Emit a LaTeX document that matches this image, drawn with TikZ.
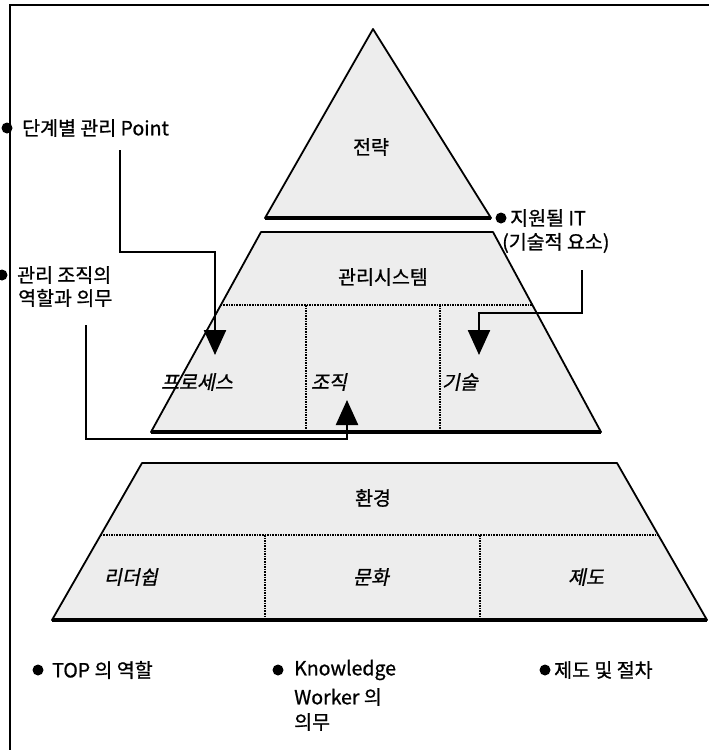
\documentclass[tikz,border=0pt]{standalone}
\usepackage{fontspec}
\setmainfont{Noto Sans CJK KR}[FakeBold=0.9, AutoFakeBold=0.9]
\newfontfamily\kr{Noto Sans CJK KR}[FakeBold=0.9]
\newfontfamily\krit{Noto Sans CJK KR}[FakeSlant=0.2, FakeBold=0.9]
\usetikzlibrary{arrows.meta,calc}
\begin{document}
\begin{tikzpicture}[x=1pt,y=-1pt,
  lbl/.style={font=\fontsize{19.5}{22}\selectfont\kr, inner sep=0pt},
  itl/.style={font=\fontsize{19.5}{22}\selectfont\krit, inner sep=0pt},
  tier/.style={draw, line width=1.8pt, fill=black!7, line join=round},
  baseline edge/.style={line width=3.8pt, line cap=butt},
  divider/.style={densely dotted, line width=1.6pt},
  conn/.style={line width=2.4pt, -{Triangle[length=25pt,width=22pt]}},
  dot/.style={circle, fill, inner sep=0pt, minimum size=11pt},
]
\useasboundingbox (0,0) rectangle (709,750);
% frame
\draw[line width=1.6pt] (10,750) -- (10,5) -- (709,5);

% top triangle
\coordinate (Tap) at (373,29);
\coordinate (Tbl) at (265,218);
\coordinate (Tbr) at (491,218);
\filldraw[tier] (Tap) -- (Tbr) -- (Tbl) -- cycle;
\draw[baseline edge] (Tbl) -- (Tbr);

% middle trapezoid
\coordinate (Mtl) at (261,232);
\coordinate (Mtr) at (493,232);
\coordinate (Mbr) at (601,432);
\coordinate (Mbl) at (151,432);
\filldraw[tier] (Mtl) -- (Mtr) -- (Mbr) -- (Mbl) -- cycle;
\draw[baseline edge] (Mbl) -- (Mbr);
\draw[divider] ($(Mtl)!0.365!(Mbl)$) -- ($(Mtr)!0.365!(Mbr)$);
\draw[divider] (306,305) -- (306,431);
\draw[divider] (440,305) -- (440,431);

% bottom trapezoid
\coordinate (Btl) at (142,463);
\coordinate (Btr) at (617,463);
\coordinate (Bbr) at (707,620);
\coordinate (Bbl) at (52,620);
\filldraw[tier] (Btl) -- (Btr) -- (Bbr) -- (Bbl) -- cycle;
\draw[baseline edge] (Bbl) -- (Bbr);
\draw[divider] ($(Btl)!0.4586!(Bbl)$) -- ($(Btr)!0.4586!(Bbr)$);
\draw[divider] (265,535) -- (265,619);
\draw[divider] (480,535) -- (480,619);

% labels inside
\node[lbl] (strat) at (371,147) {전략};
\node[lbl] (msys) at (383,277) {관리시스템};
\node[itl] (proc) at (197,382) {프로세스};
\node[itl] (org) at (329,382) {조직};
\node[itl] (tech) at (460,382) {기술};
\node[lbl] (env) at (373,498) {환경};
\node[itl] (lead) at (131,577) {리더쉽};
\node[itl] (cult) at (371,577) {문화};
\node[itl] (inst) at (586,577) {제도};

% side labels
\node[dot] (d1) at (7,128) {};
\node[lbl, anchor=west] (p1) at (22,128) {단계별 관리 Point};
\node[dot] (d2) at (501,218) {};
\node[lbl, anchor=west] (p2a) at (510,218) {지원될 IT};
\node[lbl, anchor=west] (p2b) at (502,243) {(기술적 요소)};
\node[dot] (d3) at (2,275) {};
\node[lbl, anchor=west] (p3a) at (17,275) {관리 조직의};
\node[lbl, anchor=west] (p3b) at (18,298) {역할과 의무};

% bottom labels
\node[dot] (d4) at (38,670) {};
\node[lbl, anchor=west] (t4) at (52,670) {TOP 의 역할};
\node[dot] (d5) at (278,670) {};
\node[lbl, anchor=west] (t5a) at (294,670) {Knowledge};
\node[lbl, anchor=west] (t5b) at (294,697) {Worker 의};
\node[lbl, anchor=west] (t5c) at (294,722) {의무};
\node[dot] (d6) at (545,670) {};
\node[lbl, anchor=west] (t6) at (554,670) {제도 및 절차};

% connectors
\coordinate (a1s) at (120,150);
\coordinate (a1e) at (215,355);
\draw[conn] (a1s) -- (a1s |- 0,252) -- (a1e |- 0,252) -- (a1e);
\coordinate (a2s) at (582,270);
\coordinate (a2e) at (479,355);
\draw[conn] (a2s) -- (a2s |- 0,313) -- (a2e |- 0,313) -- (a2e);
\coordinate (a3s) at (86,325);
\coordinate (a3e) at (347,400);
\draw[conn] (a3s) -- (a3s |- 0,439) -- (a3e |- 0,439) -- (a3e);
\end{tikzpicture}
\end{document}
